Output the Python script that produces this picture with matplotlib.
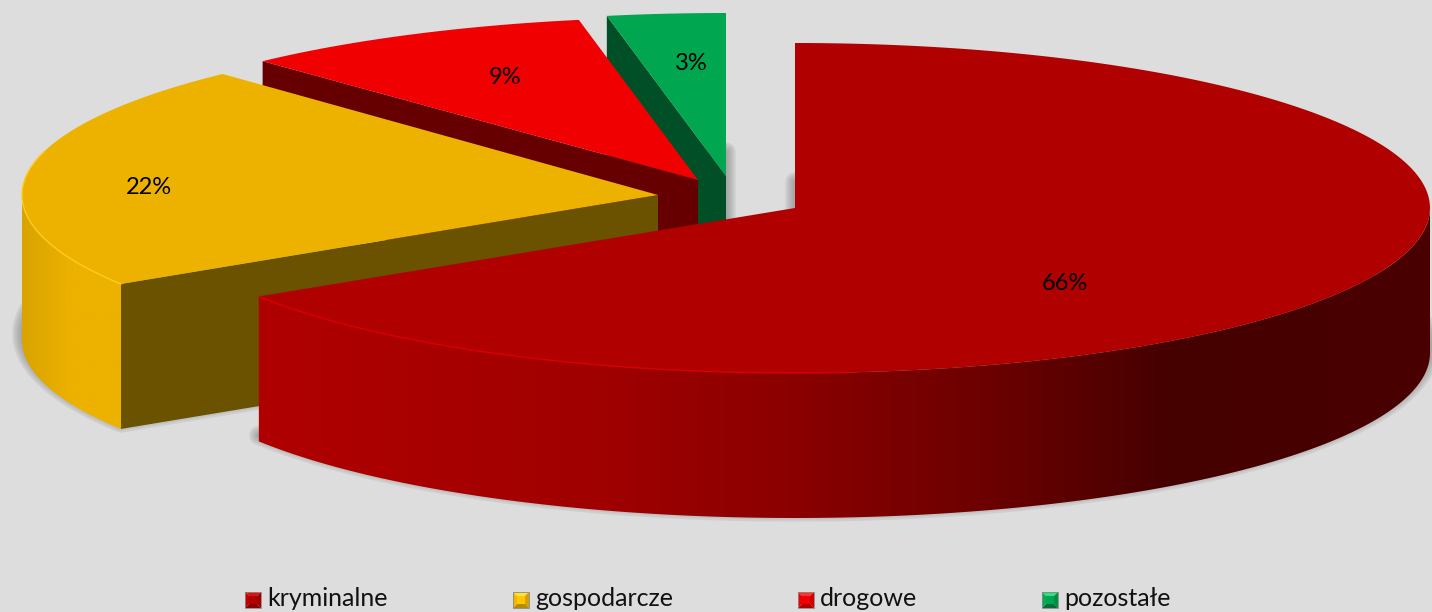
import numpy as np
import matplotlib
matplotlib.use("Agg")
import matplotlib.pyplot as plt
from matplotlib.colors import LinearSegmentedColormap
from matplotlib.patches import Polygon

categories = ['kryminalne', 'gospodarcze', 'drogowe', 'pozostałe']
values = [66, 22, 9, 3]

top_colors = ['#B00000', '#EDB200', '#F00000', '#00A650']
cut_colors = [None, '#6B5200', '#660000', '#004F26']
bevel_colors = [
    ('#E01010', '#8A0000', '#C00000', '#A00000'),
    ('#FFE040', '#B88A00', '#F0B800', '#D8A000'),
    ('#FF3030', '#B00000', '#F00000', '#D00000'),
    ('#30E080', '#007038', '#00B050', '#009040'),
]

# pixel layout of the picture
centers = [(795, 208), (658, 195), (698, 180), (726, 176)]
radii = [(635, 165), (636, 166), (636, 163), (636, 163)]
depth = 145
label_pos = [(1065, 284), (149, 188), (505, 77), (691, 64)]
legend_x = [245, 513, 798, 1042]


def ell(i, angles):
    # angles in degrees, clockwise from 12 o'clock
    a = np.radians(angles)
    cx, cy = centers[i]
    rx, ry = radii[i]
    return np.column_stack([cx + rx * np.sin(a), cy - ry * np.cos(a)])


def top_face(i, start, end):
    arc = ell(i, np.linspace(start, end, 200))
    return np.vstack([[centers[i]], arc])


def gradient_wall(ax, i, a0, a1, cmap, x0, x1, z):
    arc = ell(i, np.linspace(a0, a1, 200))
    wall = np.vstack([arc, (arc + [0, depth])[::-1]])
    poly = Polygon(wall, closed=True, facecolor='none', edgecolor='none', zorder=z)
    ax.add_patch(poly)
    grad = np.linspace(0, 1, 512).reshape(1, -1)
    im = ax.imshow(grad, cmap=cmap, extent=(x0, x1, 612, 0), aspect='auto', zorder=z)
    im.set_clip_path(poly)


fig = plt.figure(figsize=(14.32, 6.12), dpi=100, facecolor='#DDDDDD')
ax = fig.add_axes([0, 0, 1, 1])
ax.set_facecolor('#DDDDDD')
ax.axis('off')

edges = np.cumsum([0] + values) / sum(values) * 360.0

# soft shadow, from the bottom faces of the slices
for lw in [14, 11, 8, 5, 2]:
    for i in range(4):
        pts = top_face(i, edges[i], edges[i + 1]) + [0, depth - 6]
        ax.add_patch(Polygon(pts, closed=True, facecolor='#777777', edgecolor='#777777',
                             linewidth=lw, alpha=0.14, joinstyle='round', zorder=1))

main_cmap = LinearSegmentedColormap.from_list(
    'main', [(0, '#B00000'), (0.29, '#A00000'), (0.46, '#8A0000'), (0.63, '#6A0000'),
             (0.78, '#450000'), (1, '#4A0000')])
yellow_cmap = LinearSegmentedColormap.from_list('yel', [(0, '#D8A400'), (0.5, '#EDB200'), (1, '#EDB200')])

# back to front: green, red, yellow, main slice
for i in [3, 2, 1, 0]:
    z = 10 + (3 - i) * 5
    if cut_colors[i] is not None:
        rim = ell(i, [edges[i]])[0]
        c = np.array(centers[i], dtype=float)
        quad = [c, rim, rim + [0, depth], c + [0, depth]]
        ax.add_patch(Polygon(quad, closed=True, facecolor=cut_colors[i], edgecolor='none', zorder=z))
    if i == 0:
        gradient_wall(ax, 0, 90, edges[1], main_cmap, 258, 1432, z + 1)
    if i == 1:
        gradient_wall(ax, 1, edges[1], 270, yellow_cmap, 22, 122, z + 1)
    ax.add_patch(Polygon(top_face(i, edges[i], edges[i + 1]), closed=True,
                         facecolor=top_colors[i], edgecolor='none', zorder=z + 2))

# lighter rim on the front of the top faces
rim0 = ell(0, np.linspace(175, edges[1], 100))
ax.plot(rim0[:, 0], rim0[:, 1], color='#D80000', lw=1.0, zorder=28)
rim1 = ell(1, np.linspace(edges[1], 285, 100))
ax.plot(rim1[:, 0], rim1[:, 1], color='#FFCB20', lw=1.0, zorder=23)

for i in range(4):
    ax.text(label_pos[i][0], label_pos[i][1], f"{values[i]}%", ha='center', va='center',
            fontsize=17, family='Lato', color='black', zorder=40)

# legend with bevelled keys
sq = 16
y0 = 592
for i in range(4):
    x0 = legend_x[i]
    inset = 4
    outer = [(x0, y0), (x0 + sq, y0), (x0 + sq, y0 + sq), (x0, y0 + sq)]
    inner = [(x0 + inset, y0 + inset), (x0 + sq - inset, y0 + inset),
             (x0 + sq - inset, y0 + sq - inset), (x0 + inset, y0 + sq - inset)]
    for k in range(4):
        # top, right, bottom, left bevel
        shade = [bevel_colors[i][0], bevel_colors[i][3], bevel_colors[i][1], bevel_colors[i][2]][k]
        quad = [outer[k], outer[(k + 1) % 4], inner[(k + 1) % 4], inner[k]]
        ax.add_patch(Polygon(quad, closed=True, facecolor=shade, edgecolor='none', zorder=30))
    ax.add_patch(Polygon(inner, closed=True, facecolor=top_colors[i] if i != 1 else '#FFC800',
                         edgecolor='none', zorder=31))
    ax.add_patch(Polygon(outer, closed=True, facecolor='none', edgecolor='#888888', lw=0.6, zorder=32))
    ax.text(x0 + 22, 606, categories[i], ha='left', va='baseline', fontsize=18,
            family='Lato', color='#111111', zorder=40)

ax.set_xlim(0, 1432)
ax.set_ylim(612, 0)
fig.savefig('out.png', dpi=100, facecolor=fig.get_facecolor())
